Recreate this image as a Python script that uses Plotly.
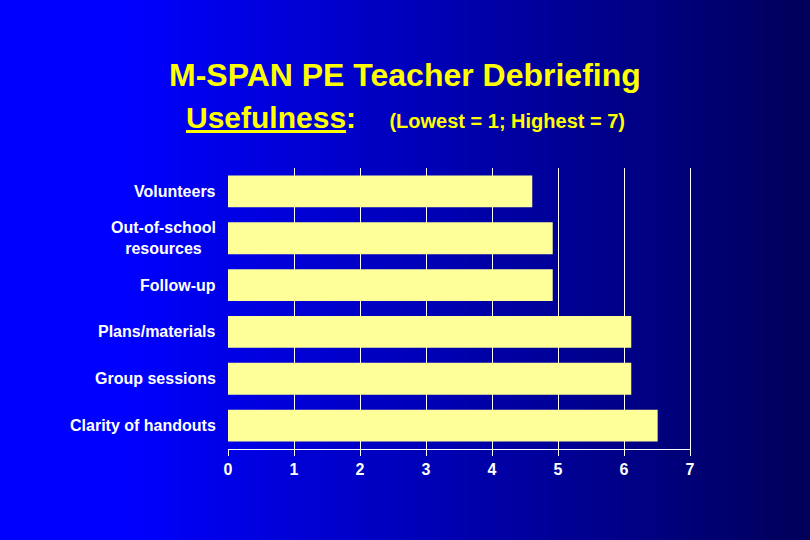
import plotly.graph_objects as go

# survey items, top to bottom
categories = ["Volunteers", "Out-of-school<br>resources", "Follow-up",
              "Plans/materials", "Group sessions", "Clarity of handouts"]
scores = [4.61, 4.92, 4.92, 6.11, 6.11, 6.51]
x_ticks = [0, 1, 2, 3, 4, 5, 6, 7]

W, H = 810, 540
L, R, T, B = 228, 120, 168, 91
pw = W - L - R
ph = H - T - B

font_fam = "Liberation Sans, Arial, sans-serif"


def px_(pix):
    # pixel column -> paper x
    return (pix - L) / pw


def py(pix):
    # pixel row from the top -> paper y
    return (H - B - pix) / ph


fig = go.Figure()
fig.add_trace(go.Bar(
    x=scores, y=categories, orientation="h",
    marker=dict(color="#ffff99", line=dict(width=0)),
    hoverinfo="x+y",
))

# horizontal blue gradient background, bright on the left
shapes = []
n = 90
for i in range(n):
    p0 = W * i / n
    p1 = W * (i + 1) / n + 1
    mid = (p0 + p1) / 2
    if mid < 130:
        b = 255
    else:
        b = 255 - (255 - 90) * (mid - 130) / (W - 130)
    shapes.append(dict(
        type="rect", xref="paper", yref="paper", layer="below",
        x0=px_(p0), x1=px_(p1), y0=py(H) - 0.01, y1=py(0) + 0.01,
        fillcolor="rgb(0,0,%d)" % int(b), line=dict(width=0),
    ))

# category labels as annotations so multi-line text is centred
annotations = []
for c in categories:
    annotations.append(dict(
        x=0, y=c, xref="paper", yref="y", xanchor="right", yanchor="middle",
        xshift=-10, text=c, showarrow=False, align="center",
        font=dict(family=font_fam, size=16, color="white", weight="bold"),
    ))

annotations.append(dict(
    x=px_(405), y=py(75), xref="paper", yref="paper", yanchor="middle",
    showarrow=False, text="M-SPAN PE Teacher Debriefing",
    font=dict(family=font_fam, size=32, color="#ffff00", weight="bold"),
))
annotations.append(dict(
    x=px_(405), y=py(117), xref="paper", yref="paper", yanchor="middle",
    showarrow=False,
    text="<u>Usefulness</u>:    <span style='font-size:20px'>(Lowest = 1; Highest = 7)</span>",
    font=dict(family=font_fam, size=30, color="#ffff00", weight="bold"),
))

fig.update_layout(
    width=W, height=H,
    margin=dict(l=L, r=R, t=T, b=B),
    paper_bgcolor="#0000ff",
    plot_bgcolor="rgba(0,0,0,0)",
    showlegend=False,
    bargap=0.32,
    shapes=shapes,
    annotations=annotations,
    xaxis=dict(
        range=[0, 7], tickvals=x_ticks, ticktext=[str(v) for v in x_ticks],
        showgrid=True, gridcolor="white", gridwidth=1, zeroline=False,
        showline=True, linecolor="white", linewidth=1,
        ticks="outside", ticklen=6, tickcolor="white",
        tickfont=dict(family=font_fam, size=16, color="white", weight="bold"),
        fixedrange=True,
    ),
    yaxis=dict(
        autorange="reversed", showticklabels=False, showgrid=False,
        zeroline=False, showline=True, side="right", linecolor="white",
        linewidth=1, ticks="", fixedrange=True,
    ),
)

fig.write_html("out.html", config={"displayModeBar": False},
               post_script="document.body.style.margin='0';")
